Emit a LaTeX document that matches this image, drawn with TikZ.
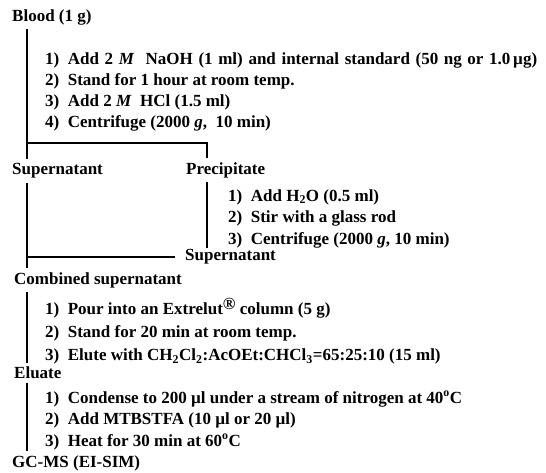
\documentclass[tikz,border=0pt]{standalone}
\usepackage{fontspec}
\setmainfont{Liberation Serif}
\usepackage{tikz}
\usetikzlibrary{positioning,calc}

\begin{document}
\begin{tikzpicture}[
    x=1pt, y=-1pt,
    label/.style={anchor=west, inner xsep=0pt, inner ysep=4pt, font=\bfseries\fontsize{17}{20}\selectfont},
    steps/.style={anchor=north west, inner sep=0pt, align=left, font=\bfseries\fontsize{17}{21}\selectfont},
    link/.style={line width=2.2pt},
]
\useasboundingbox (0,0) rectangle (546,472);
\coordinate (trunk) at (27,0);
\coordinate (precx) at (207,0);
\coordinate (split) at (27,143);

\node[label] (blood)  at (12,17)  {Blood (1 g)};
\node[steps] (bloodsteps) at (45,52) {\makebox[492pt][s]{1)\enspace Add 2 \textit{M}\ \ NaOH (1 ml) and internal standard (50 ng or 1.0\,µg)}\\
2)\enspace Stand for 1 hour at room temp.\\
3)\enspace Add 2 \textit{M}\ \ HCl (1.5 ml)\\
4)\enspace Centrifuge (2000 \textit{g},\ \ 10 min)};

\node[label] (supL)   at (12,171) {Supernatant};
\node[label] (precip) at (186,170) {Precipitate};
\node[steps, font=\bfseries\fontsize{17}{21.5}\selectfont] (precsteps) at (228,189) {1)\enspace Add H\textsubscript{2}O (0.5 ml)\\
2)\enspace Stir with a glass rod\\
3)\enspace Centrifuge (2000 \textit{g}, 10 min)};
\node[label] (supR)   at (185,257) {Supernatant};

\node[label] (comb)   at (14,280) {Combined supernatant};
\node[steps, font=\bfseries\fontsize{17}{23}\selectfont] (combsteps) at (45,298) {1)\enspace Pour into an Extrelut\raisebox{.7ex}{\textregistered} column (5 g)\\
2)\enspace Stand for 20 min at room temp.\\
3)\enspace Elute with CH\textsubscript{2}Cl\textsubscript{2}:AcOEt:CHCl\textsubscript{3}=65:25:10 (15 ml)};

\node[label] (eluate) at (14,373) {Eluate};
\node[steps, font=\bfseries\fontsize{17}{21.5}\selectfont] (elusteps) at (45,391) {1)\enspace Condense to 200 µl under a stream of nitrogen at 40\textsuperscript{o}C\\
2)\enspace Add MTBSTFA (10 µl or 20 µl)\\
3)\enspace Heat for 30 min at 60\textsuperscript{o}C};

\node[label] (gcms)   at (12,463) {GC-MS (EI-SIM)};

\draw[link] (blood.south -| trunk) -- (supL.north -| trunk);
\draw[link] (split) -| (precip.north -| precx);
\draw[link] (supL.south -| trunk) -- (comb.north -| trunk);
\draw[link, shorten >=10pt] (trunk |- supR.west) -- (supR.west);
\draw[link] (precip.south -| precx) -- (precsteps.south -| precx);
\draw[link] (comb.south -| trunk) -- (eluate.north -| trunk);
\draw[link] (eluate.south -| trunk) -- (gcms.north -| trunk);
\end{tikzpicture}
\end{document}
